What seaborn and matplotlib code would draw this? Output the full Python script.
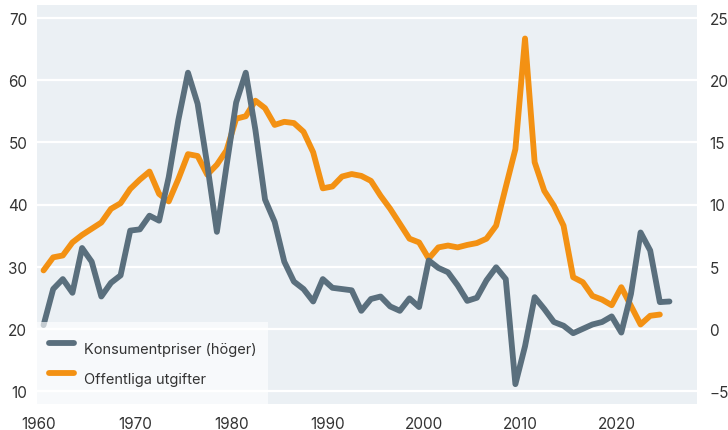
import numpy as np
import pandas as pd
import matplotlib
matplotlib.use("Agg")
import matplotlib.pyplot as plt
import seaborn as sns
from matplotlib.lines import Line2D

# Konsumentpriser (höger axel), 1960-2025
kpi_years = list(range(1960, 2026))
kpi = [0.3, 3.2, 4.0, 2.9, 6.5, 5.4, 2.6, 3.7, 4.3, 7.9,
       8.0, 9.1, 8.7, 12.2, 16.8, 20.6, 18.1, 13.2, 7.8, 13.1,
       18.2, 20.6, 16.0, 10.4, 8.6, 5.4, 3.8, 3.2, 2.2, 4.0,
       3.3, 3.2, 3.1, 1.45, 2.4, 2.6, 1.8, 1.45, 2.45, 1.75,
       5.5, 4.9, 4.55, 3.5, 2.25, 2.5, 3.9, 4.95, 4.0, -4.45,
       -1.4, 2.55, 1.6, 0.55, 0.25, -0.35, 0.0, 0.35, 0.55, 1.0,
       -0.3, 2.8, 7.75, 6.3, 2.15, 2.2]

# Offentliga utgifter (vänster axel), 1960-2024
utg_years = list(range(1960, 2025))
utg = [29.4, 31.5, 31.8, 33.9, 35.1, 36.1, 37.1, 39.3, 40.2, 42.5,
       44.0, 45.3, 41.7, 40.5, 44.1, 48.1, 47.8, 44.8, 46.4, 48.7,
       53.8, 54.2, 56.7, 55.5, 52.8, 53.3, 53.1, 51.7, 48.4, 42.6,
       42.9, 44.5, 44.9, 44.6, 43.8, 41.4, 39.3, 36.9, 34.5, 33.9,
       31.3, 33.1, 33.4, 33.1, 33.5, 33.8, 34.5, 36.6, 42.8, 48.9,
       66.7, 46.8, 42.2, 39.8, 36.6, 28.3, 27.5, 25.3, 24.7, 23.8,
       26.7, 23.7, 20.7, 22.1, 22.3]

left_ticks = [10, 20, 30, 40, 50, 60, 70]
right_ticks = [-5, 0, 5, 10, 15, 20, 25]
x_ticks = [1960, 1970, 1980, 1990, 2000, 2010, 2020]

# points sit mid-year
kpi_df = pd.DataFrame({"year": np.array(kpi_years) + 0.5, "value": kpi})
utg_df = pd.DataFrame({"year": np.array(utg_years) + 0.5, "value": utg})

grey = "#5a6f7d"
orange = "#f39113"
bg = "#ebf0f4"
text_col = "#333333"

sns.set_style("white")
plt.rcParams["font.family"] = ["Inter", "DejaVu Sans"]

fig = plt.figure(figsize=(7.28, 4.31), dpi=100)
ax = fig.add_axes([37 / 728, 1 - 405 / 431, 660 / 728, 399 / 431])
ax.set_facecolor(bg)
ax2 = ax.twinx()

sns.lineplot(data=utg_df, x="year", y="value", ax=ax, color=orange, lw=4.2)
sns.lineplot(data=kpi_df, x="year", y="value", ax=ax2, color=grey, lw=4.2)

ax.set_xlim(1959.82, 2028.36)
ax.set_ylim(7.91, 72.09)
ax2.set_ylim(-6.045, 26.045)

ax.set_yticks(left_ticks)
ax2.set_yticks(right_ticks)
ax.set_xticks(x_ticks)
ax.set_xlabel("")
ax.set_ylabel("")
ax2.set_ylabel("")

ax.grid(axis="y", color="white", lw=1.6)
ax.grid(axis="x", visible=False)
ax2.grid(False)

for a in (ax, ax2):
    for s in a.spines.values():
        s.set_visible(False)

ax.tick_params(axis="y", length=0, pad=7, labelsize=11, labelcolor=text_col)
ax2.tick_params(axis="y", length=0, pad=9, labelsize=11, labelcolor=text_col)
ax.tick_params(axis="x", direction="in", length=4, width=1.6, color="white",
               pad=9, labelsize=11, labelcolor=text_col)

handles = [Line2D([0], [0], color=grey, lw=4.2),
           Line2D([0], [0], color=orange, lw=4.2)]
labels = ["Konsumentpriser (höger)", "Offentliga utgifter"]
leg = ax2.legend(handles, labels, loc="lower left", bbox_to_anchor=(0, 0),
                 borderaxespad=0, frameon=True, fancybox=False,
                 facecolor="white", edgecolor="none", framealpha=0.65,
                 fontsize=10.5, handlelength=1.75, handletextpad=0.68,
                 handleheight=2.6, labelspacing=0.12, borderpad=0.8)
for t in leg.get_texts():
    t.set_color(text_col)

fig.savefig("out.png", dpi=100)
